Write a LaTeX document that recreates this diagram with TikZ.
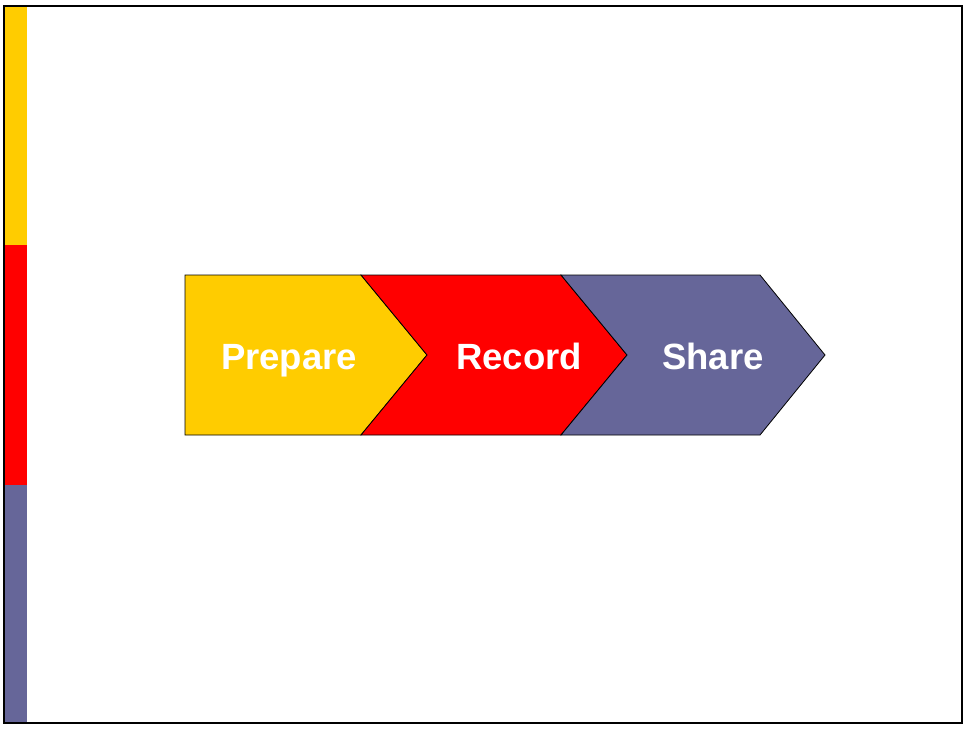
\documentclass[tikz,border=0pt]{standalone}
\usepackage{fontspec}
\setmainfont{Liberation Sans}
\definecolor{cyel}{HTML}{FFCC00}
\definecolor{cred}{HTML}{FF0000}
\definecolor{cpur}{HTML}{666699}
\begin{document}
\begin{tikzpicture}[x=1pt,y=-1pt,
  chev/.style={draw=black,line width=0.8pt,line join=miter},
  lbl/.style={text=white,font=\fontsize{36.5}{40}\selectfont\bfseries,inner sep=0pt,anchor=base}]
\useasboundingbox (0,0) rectangle (965,730);
% left bar
\fill[cyel] (5,6) rectangle (27,245);
\fill[cred] (5,245) rectangle (27,485);
\fill[cpur] (5,485) rectangle (27,723);
% frame
\draw[line width=2.2pt] (4,6) rectangle (962,723);
% chevrons
\draw[chev,fill=cyel] (185,275) -- (361,275) -- (427,355) -- (361,435) -- (185,435) -- cycle;
\draw[chev,fill=cred] (361,275) -- (561,275) -- (627,355) -- (561,435) -- (361,435) -- (427,355) -- cycle;
\draw[chev,fill=cpur] (561,275) -- (760,275) -- (825,355) -- (760,435) -- (561,435) -- (627,355) -- cycle;
\node[lbl] (prep) at (289,369) {Prepare};
\node[lbl] (rec) at (519,369) {Record};
\node[lbl] (shr) at (713,369) {Share};
\end{tikzpicture}
\end{document}
